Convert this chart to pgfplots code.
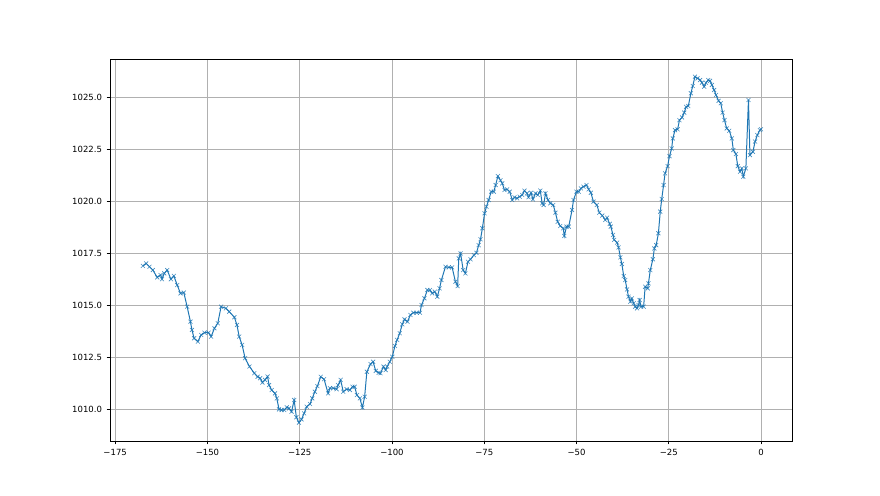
\documentclass[border=0pt]{standalone}
\usepackage{pgfplots}
\pgfplotsset{compat=1.18}
\usepackage{fontspec}
\setmainfont{DejaVu Sans}
\definecolor{mplblue}{HTML}{1F77B4}
\definecolor{mplgrid}{HTML}{B0B0B0}
\begin{document}
\begin{tikzpicture}[x=1pt,y=1pt]
\path[use as bounding box] (0,0) rectangle (880,495);
\begin{axis}[
  at={(110pt,54pt)}, anchor=south west,
  width=682pt, height=382pt, scale only axis,
  xmin=-176.4, xmax=8.4, ymin=1008.46, ymax=1026.83,
  xtick={-175,-150,-125,-100,-75,-50,-25,0},
  xticklabels={−175,−150,−125,−100,−75,−50,−25,0},
  ytick={1010,1012.5,1015,1017.5,1020,1022.5,1025},
  yticklabel style={/pgf/number format/.cd, fixed, fixed zerofill, precision=1, set thousands separator={}, assume math mode=true},
  /pgf/number format/assume math mode=true,
  ticklabel style={font=\fontsize{8.5}{10}\selectfont},
  tick align=outside, tick pos=left,
  major tick length=3.5pt,
  every tick/.style={black, line width=0.6pt},
  axis line style={black, line width=0.6pt},
  grid=major,
  major grid style={mplgrid, line width=0.5pt},
  xticklabel shift=1pt, yticklabel shift=1pt,
]
\addplot[color=mplblue, line width=1pt, mark=x, mark size=2.8pt, mark options={line width=0.6pt, opacity=0.85}] coordinates {
(-167.5,1016.88) (-166.6,1017.0) (-165.7,1016.84) (-164.8,1016.68) (-163.6,1016.33) (-162.7,1016.44) (-162.3,1016.24) (-161.7,1016.52) (-160.9,1016.68) (-159.9,1016.24) (-159.1,1016.4) (-158.2,1015.96) (-157.3,1015.56) (-156.4,1015.6) (-155.5,1014.92) (-154.6,1014.2) (-154.2,1013.8) (-153.6,1013.4) (-152.6,1013.24) (-151.7,1013.56) (-150.8,1013.67) (-149.7,1013.67) (-149.0,1013.48) (-148.1,1013.88) (-147.2,1014.12) (-146.3,1014.92) (-145.0,1014.84) (-144.1,1014.68) (-142.7,1014.41) (-142.0,1014.04) (-141.4,1013.48) (-140.6,1013.08) (-139.8,1012.44) (-138.6,1012.04) (-137.3,1011.72) (-136.4,1011.55) (-135.7,1011.48) (-135.1,1011.27) (-134.4,1011.4) (-133.7,1011.56) (-133.3,1011.15) (-132.6,1010.91) (-131.7,1010.75) (-131.2,1010.51) (-130.6,1009.98) (-129.9,1009.95) (-129.2,1009.95) (-128.5,1010.08) (-127.9,1010.03) (-127.2,1009.87) (-126.5,1010.43) (-125.9,1009.6) (-125.2,1009.34) (-124.5,1009.5) (-123.8,1009.79) (-123.1,1010.11) (-122.2,1010.24) (-121.6,1010.51) (-120.9,1010.83) (-120.2,1011.1) (-119.3,1011.55) (-118.4,1011.43) (-117.3,1010.75) (-116.8,1011.0) (-115.9,1011.0) (-115.0,1010.95) (-114.6,1011.15) (-113.9,1011.4) (-113.2,1010.83) (-112.3,1010.95) (-111.4,1010.91) (-110.7,1011.07) (-110.1,1011.07) (-109.5,1010.67) (-108.7,1010.51) (-108.0,1010.07) (-107.4,1010.59) (-106.8,1011.79) (-105.8,1012.16) (-105.1,1012.27) (-104.4,1011.83) (-103.6,1011.74) (-103.1,1011.72) (-102.3,1012.04) (-101.7,1011.87) (-101.3,1012.04) (-100.6,1012.27) (-99.9,1012.51) (-99.2,1013.03) (-98.6,1013.32) (-97.9,1013.64) (-97.2,1014.07) (-96.6,1014.31) (-95.8,1014.2) (-95.0,1014.52) (-94.2,1014.63) (-93.3,1014.63) (-92.4,1014.63) (-92.0,1015.0) (-91.2,1015.32) (-90.4,1015.72) (-89.7,1015.72) (-89.1,1015.56) (-88.4,1015.64) (-87.7,1015.4) (-87.1,1015.8) (-86.6,1016.2) (-85.5,1016.84) (-84.6,1016.81) (-83.7,1016.81) (-82.8,1016.12) (-82.2,1015.91) (-81.9,1017.24) (-81.4,1017.48) (-80.7,1016.68) (-80.1,1016.52) (-79.4,1017.08) (-78.7,1017.2) (-77.8,1017.4) (-77.1,1017.51) (-76.5,1017.88) (-76.0,1018.16) (-75.5,1018.69) (-74.9,1019.41) (-74.4,1019.73) (-73.8,1020.05) (-73.1,1020.45) (-72.4,1020.45) (-71.9,1020.77) (-71.3,1021.2) (-70.6,1021.0) (-70.1,1020.85) (-69.5,1020.53) (-68.8,1020.56) (-68.1,1020.45) (-67.4,1020.05) (-66.8,1020.18) (-66.1,1020.13) (-65.4,1020.21) (-64.7,1020.29) (-64.1,1020.5) (-63.4,1020.37) (-63.0,1020.18) (-62.3,1020.4) (-61.8,1020.08) (-61.1,1020.37) (-60.5,1020.29) (-59.8,1020.5) (-59.3,1019.89) (-58.9,1019.81) (-58.4,1020.37) (-57.7,1020.05) (-57.1,1019.89) (-56.3,1019.81) (-55.7,1019.44) (-55.1,1019.0) (-54.4,1018.8) (-53.6,1018.69) (-53.3,1018.32) (-52.7,1018.77) (-52.1,1018.77) (-51.2,1019.57) (-50.8,1020.05) (-50.0,1020.45) (-49.4,1020.45) (-48.8,1020.61) (-48.1,1020.69) (-47.3,1020.77) (-46.7,1020.56) (-46.1,1020.4) (-45.4,1019.97) (-44.5,1019.81) (-43.8,1019.44) (-43.0,1019.3) (-42.2,1019.09) (-41.7,1019.2) (-41.0,1018.9) (-40.7,1018.77) (-40.1,1018.37) (-39.8,1018.13) (-39.0,1018.0) (-38.6,1017.77) (-38.1,1017.29) (-37.7,1016.97) (-37.2,1016.39) (-36.8,1016.2) (-36.3,1015.75) (-35.9,1015.4) (-35.4,1015.16) (-35.0,1015.32) (-34.5,1015.08) (-34.1,1014.92) (-33.6,1014.84) (-33.2,1015.0) (-32.9,1015.24) (-32.5,1014.92) (-31.8,1014.92) (-31.4,1015.88) (-30.7,1015.8) (-30.5,1016.04) (-30.0,1016.68) (-29.3,1017.2) (-28.9,1017.72) (-28.4,1017.88) (-27.8,1018.45) (-27.3,1019.49) (-26.9,1020.1) (-26.4,1020.77) (-26.0,1021.33) (-25.3,1021.68) (-24.8,1022.16) (-24.2,1022.53) (-23.9,1023.01) (-23.3,1023.41) (-22.6,1023.45) (-22.1,1023.89) (-21.4,1024.02) (-20.8,1024.25) (-20.3,1024.53) (-19.7,1024.57) (-19.0,1025.18) (-18.5,1025.53) (-17.9,1025.98) (-17.2,1025.9) (-16.5,1025.82) (-16.0,1025.69) (-15.4,1025.5) (-14.9,1025.69) (-14.3,1025.82) (-13.8,1025.78) (-13.3,1025.58) (-12.7,1025.34) (-12.2,1025.1) (-11.5,1024.82) (-10.9,1024.7) (-10.4,1024.25) (-9.9,1023.89) (-9.3,1023.49) (-8.6,1023.38) (-7.9,1023.01) (-7.5,1022.45) (-6.8,1022.26) (-6.3,1021.68) (-5.7,1021.41) (-5.2,1021.57) (-4.8,1021.17) (-4.1,1021.57) (-3.4,1024.86) (-3.0,1022.21) (-2.2,1022.37) (-1.6,1022.86) (-1.0,1023.17) (-0.3,1023.41) (0.0,1023.45)
};
\end{axis}
\end{tikzpicture}
\end{document}
